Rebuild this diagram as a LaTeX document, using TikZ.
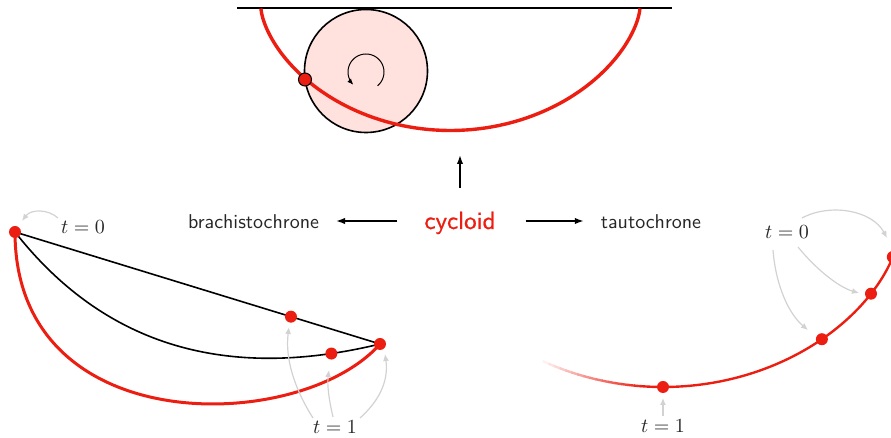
\documentclass[tikz,border=0pt]{standalone}
\usepackage{fontspec}
\newfontfamily\cycfont[FakeBold=0.8]{lmsans10-regular.otf}
\usetikzlibrary{arrows.meta}
\definecolor{cred}{RGB}{236,30,18}
\definecolor{cpink}{RGB}{255,225,222}
\definecolor{cgray}{RGB}{210,210,210}
\begin{document}
\begin{tikzpicture}[x=0.5pt,y=-0.5pt,
  dot/.style={circle,fill=cred,inner sep=0pt,minimum size=6pt},
  blackarrow/.style={line width=0.75pt,-{Latex[length=4.5pt,width=3.2pt]}},
  grayarrow/.style={draw=cgray,line width=0.6pt,-{Latex[length=3.5pt,width=3pt]}},
  word/.style={font=\sffamily,text=black!85,text height=8pt,text depth=0pt},
  tlabel/.style={text=black!85,anchor=base,inner sep=1pt},
  thinline/.style={line width=0.8pt}
]
\useasboundingbox (0,0) rectangle (891,438);
\clip (0,0) rectangle (891,438);
% ---------- top: rolling wheel ----------
\coordinate (L1) at (237,8);
\coordinate (L2) at (672,8);
\node[circle,draw=black,fill=cpink,line width=0.8pt,minimum size=61.5pt,inner sep=0pt] (wheel) at (366,71) {};
\draw[thinline] (L1) -- (L2);
\draw[cred,line width=1.7pt] plot[domain=0:6.2832,samples=120,variable=\t] ({261+60.3*(\t-sin(\t r))},{8.5+61*(1-cos(\t r))});
\draw[line width=0.5pt,-{Latex[length=3pt,width=2.5pt]}] plot[domain=-50:225,samples=50,variable=\a] ({366+18*cos(\a)},{72-18*sin(\a)});
\node[dot,draw=black,line width=0.5pt,minimum size=6.5pt] (p) at (305,79.5) {};
% ---------- middle row ----------
\node[word,font=\cycfont\fontsize{12.5}{15}\selectfont,text=cred] (cyc) at (460,221) {cycloid};
\node[word] (bra) at (253.5,221) {brachistochrone};
\node[word] (tau) at (651,221) {tautochrone};
\coordinate (up) at (460,155);
\draw[blackarrow,shorten <=9pt] (cyc.north) -- (up);
\draw[blackarrow,shorten <=10pt,shorten >=5pt] (cyc.west) -- (bra.east);
\draw[blackarrow,shorten <=11.5pt,shorten >=5pt] (cyc.east) -- (tau.west);
% ---------- left panel: brachistochrone ----------
\coordinate (A) at (15,232);
\coordinate (B) at (380,344);
\draw[thinline] (A) -- (B) coordinate[pos=0.756] (s1);
\draw[thinline] (A) .. controls (114,358) and (244,377) .. (B) coordinate[pos=0.88] (s2);
\draw[cred,line width=1.5pt] (A) .. controls (15,442) and (301,434) .. (B);
\node[dot] (dA) at (A) {};
\node[dot] (dB) at (B) {};
\node[dot] (d1) at (s1) {};
\node[dot] (d2) at (s2) {};
\node[tlabel] (t0L) at (83,234) {$t=0$};
\node[tlabel] (t1L) at (335,434) {$t=1$};
\coordinate (a0s) at (58,218); \coordinate (a0e) at (22,221);
\draw[grayarrow] (a0s) .. controls (48,209) and (31,209) .. (a0e);
\coordinate (a1s) at (313,418); \coordinate (a1e) at (289,327);
\draw[grayarrow] (a1s) .. controls (294,388) and (285,358) .. (a1e);
\coordinate (a2s) at (333,417); \coordinate (a2e) at (329,370);
\draw[grayarrow] (a2s) .. controls (329,400) and (327,385) .. (a2e);
\coordinate (a3s) at (360,418); \coordinate (a3e) at (385,354);
\draw[grayarrow] (a3s) .. controls (378,402) and (389,382) .. (a3e);
% ---------- right panel: tautochrone ----------
\foreach \i in {0,...,15} {
  \pgfmathsetmacro{\fa}{-0.85+0.7*\i/16}
  \pgfmathsetmacro{\fb}{-0.85+0.7*(\i+1)/16+0.005}
  \pgfmathsetmacro{\fp}{100*(\i+1)/17}
  \draw[cred!\fp!white,line width=1.2pt] plot[domain=\fa:\fb,samples=4,variable=\t] ({663+75*(\t+sin(\t r))},{387-76*(1-cos(\t r))});
}
\draw[cred,line width=1.2pt] plot[domain=-0.15:2.8,samples=100,variable=\t] ({663+75*(\t+sin(\t r))},{387-76*(1-cos(\t r))});
\node[dot] (r0) at (663,387) {};
\node[dot] (r1) at (821.9,339.2) {};
\node[dot] (r2) at (871,293.7) {};
\node[dot] (r3) at (892.8,257) {};
\node[tlabel] (t0R) at (787,239) {$t=0$};
\node[tlabel] (t1R) at (663,433) {$t=1$};
\coordinate (b1s) at (802,218); \coordinate (b1e) at (887,238);
\draw[grayarrow] (b1s) .. controls (830,203) and (872,210) .. (b1e);
\coordinate (b2s) at (798,247); \coordinate (b2e) at (859,293);
\draw[grayarrow] (b2s) .. controls (815,268) and (838,287) .. (b2e);
\coordinate (b3s) at (773,250); \coordinate (b3e) at (808,330);
\draw[grayarrow] (b3s) .. controls (776,288) and (790,315) .. (b3e);
\coordinate (b4s) at (663,416); \coordinate (b4e) at (663,398);
\draw[grayarrow] (b4s) -- (b4e);
\end{tikzpicture}
\end{document}
